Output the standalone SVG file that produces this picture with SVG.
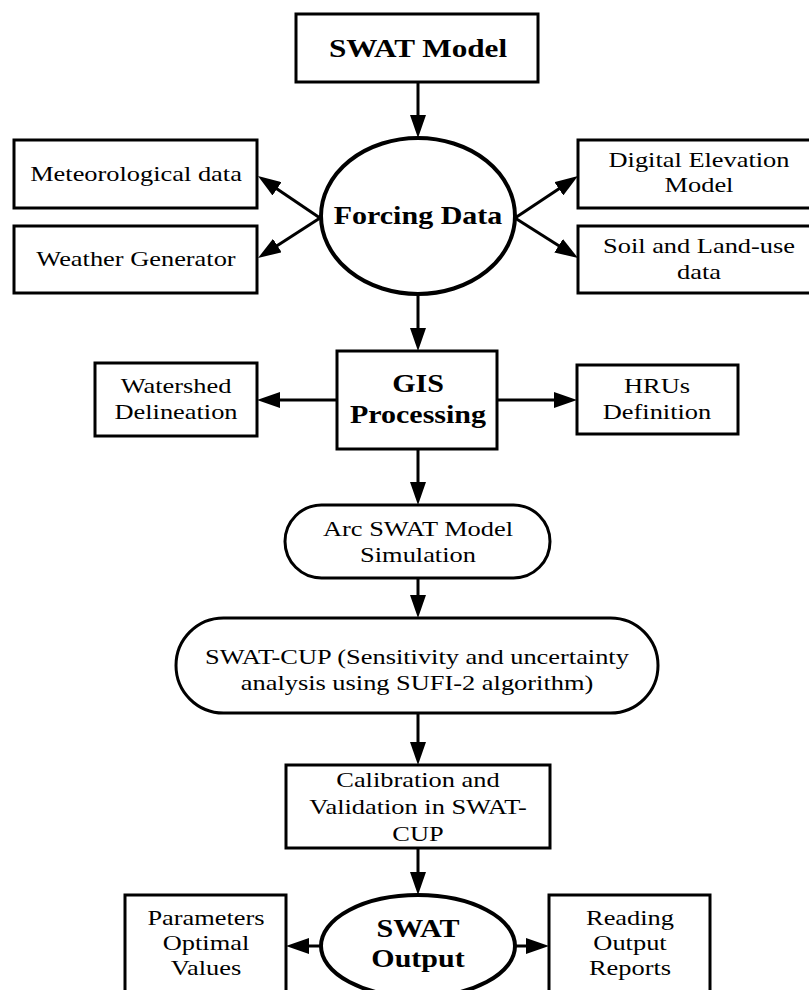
<svg xmlns="http://www.w3.org/2000/svg" width="809" height="990" viewBox="0 0 809 990">
<defs>
<marker id="ah" markerUnits="userSpaceOnUse" markerWidth="23" markerHeight="16" viewBox="0 0 23 16" refX="11" refY="8" orient="auto"><path d="M0,0 L23,8 L0,16 z" fill="#000"/></marker>
</defs>
<style>
.box{fill:#fff;stroke:#000;stroke-width:3}
.ell{fill:#fff;stroke:#000;stroke-width:4}
.t{font-family:"Liberation Serif","Times New Roman",serif;font-size:22px;fill:#000;text-anchor:middle}
.b{font-family:"Liberation Serif","Times New Roman",serif;font-size:25px;font-weight:bold;fill:#000;text-anchor:middle}
.c line{stroke:#000;stroke-width:3;fill:none;marker-end:url(#ah)}
</style>
<rect width="809" height="990" fill="#fff"/>
<g id="connectors" class="c">
<line x1="418" y1="82" x2="418" y2="126"/>
<line x1="320" y1="218" x2="267.9" y2="182.7"/>
<line x1="320" y1="218" x2="268.1" y2="251.5"/>
<line x1="515" y1="218" x2="568" y2="182.7"/>
<line x1="515" y1="218" x2="567.9" y2="251.6"/>
<line x1="418" y1="294" x2="418" y2="339"/>
<line x1="337" y1="400" x2="269" y2="400"/>
<line x1="497" y1="400" x2="565" y2="400"/>
<line x1="418" y1="449" x2="418" y2="493"/>
<line x1="418" y1="578" x2="418" y2="606"/>
<line x1="418" y1="713" x2="418" y2="753"/>
<line x1="418" y1="848" x2="418" y2="883"/>
<line x1="321" y1="946" x2="298" y2="946"/>
<line x1="515" y1="946" x2="537" y2="946"/>
</g>
<g id="swat-model">
<rect class="box" x="296" y="14" width="242" height="68"/>
<text class="b" style="font-size:26px" transform="translate(418,0) scale(1.2,1)"><tspan x="0" y="57">SWAT Model</tspan></text>
</g>
<g id="forcing-data">
<ellipse class="ell" cx="418" cy="216" rx="97" ry="78"/>
<text class="b" transform="translate(418,0) scale(1.2,1)"><tspan x="0" y="224">Forcing Data</tspan></text>
</g>
<g id="meteorological">
<rect class="box" x="14" y="140" width="243" height="68"/>
<text class="t" transform="translate(136,0) scale(1.2,1)"><tspan x="0" y="181">Meteorological data</tspan></text>
</g>
<g id="weather-generator">
<rect class="box" x="14" y="226" width="243" height="67"/>
<text class="t" transform="translate(136,0) scale(1.2,1)"><tspan x="0" y="266">Weather Generator</tspan></text>
</g>
<g id="dem">
<rect class="box" x="578" y="140" width="243" height="68"/>
<text class="t" transform="translate(699,0) scale(1.2,1)"><tspan x="0" y="167">Digital Elevation</tspan><tspan x="0" y="192">Model</tspan></text>
</g>
<g id="soil-landuse">
<rect class="box" x="578" y="226" width="243" height="67"/>
<text class="t" transform="translate(699,0) scale(1.2,1)"><tspan x="0" y="253">Soil and Land-use</tspan><tspan x="0" y="279">data</tspan></text>
</g>
<g id="gis-processing">
<rect class="box" x="337" y="351" width="160" height="98"/>
<text class="b" transform="translate(418,0) scale(1.2,1)"><tspan x="0" y="392">GIS</tspan><tspan x="0" y="423">Processing</tspan></text>
</g>
<g id="watershed">
<rect class="box" x="95" y="363" width="162" height="73"/>
<text class="t" transform="translate(176,0) scale(1.2,1)"><tspan x="0" y="393">Watershed</tspan><tspan x="0" y="419">Delineation</tspan></text>
</g>
<g id="hrus">
<rect class="box" x="577" y="365" width="161" height="69"/>
<text class="t" transform="translate(657,0) scale(1.2,1)"><tspan x="0" y="393">HRUs</tspan><tspan x="0" y="419">Definition</tspan></text>
</g>
<g id="arcswat">
<rect class="box" x="285" y="505" width="265" height="73" rx="36.5" ry="36.5"/>
<text class="t" transform="translate(418,0) scale(1.2,1)"><tspan x="0" y="536">Arc SWAT Model</tspan><tspan x="0" y="562">Simulation</tspan></text>
</g>
<g id="swat-cup">
<rect class="box" x="176" y="618" width="482" height="95" rx="47.5" ry="47.5"/>
<text class="t" transform="translate(417,0) scale(1.2,1)"><tspan x="0" y="664">SWAT-CUP (Sensitivity and uncertainty</tspan><tspan x="0" y="690">analysis using SUFI-2 algorithm)</tspan></text>
</g>
<g id="calibration">
<rect class="box" x="286" y="765" width="264" height="83"/>
<text class="t" transform="translate(418,0) scale(1.2,1)"><tspan x="0" y="787">Calibration and</tspan><tspan x="0" y="814">Validation in SWAT-</tspan><tspan x="0" y="841">CUP</tspan></text>
</g>
<g id="swat-output">
<ellipse class="ell" cx="418" cy="946" rx="97" ry="51"/>
<text class="b" transform="translate(418,0) scale(1.2,1)"><tspan x="0" y="937">SWAT</tspan><tspan x="0" y="967">Output</tspan></text>
</g>
<g id="parameters">
<rect class="box" x="125" y="895" width="161" height="110"/>
<text class="t" transform="translate(206,0) scale(1.2,1)"><tspan x="0" y="925">Parameters</tspan><tspan x="0" y="950">Optimal</tspan><tspan x="0" y="975">Values</tspan></text>
</g>
<g id="reading">
<rect class="box" x="549" y="895" width="161" height="110"/>
<text class="t" transform="translate(630,0) scale(1.2,1)"><tspan x="0" y="925">Reading</tspan><tspan x="0" y="950">Output</tspan><tspan x="0" y="975">Reports</tspan></text>
</g>
</svg>
